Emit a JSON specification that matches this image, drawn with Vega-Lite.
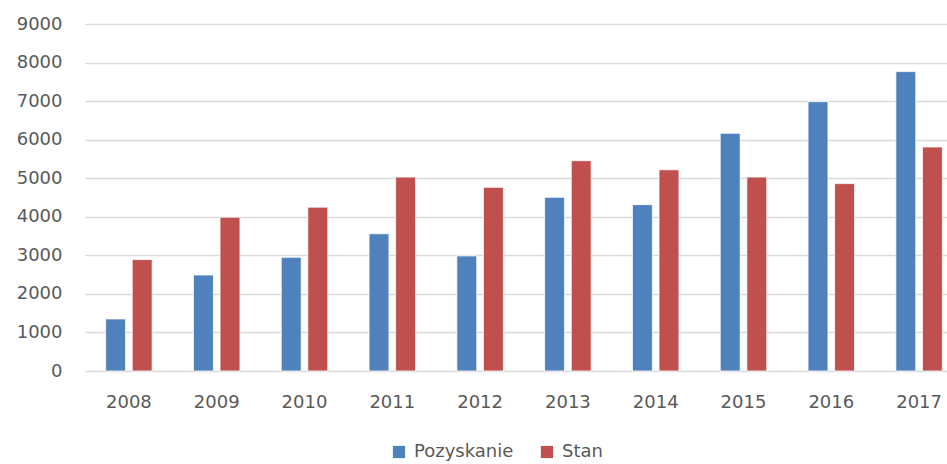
{
  "$schema": "https://vega.github.io/schema/vega-lite/v6.json",
  "autosize": "none",
  "padding": {"left": 85, "top": 24, "right": 0, "bottom": 93},
  "width": 878,
  "height": 347,
  "background": "white",
  "config": {
    "view": {"stroke": null},
    "font": "DejaVu Sans",
    "axis": {"labelFont": "DejaVu Sans", "labelColor": "#595959", "labelFontSize": 18},
    "legend": {"labelFont": "DejaVu Sans", "labelColor": "#595959", "labelFontSize": 18}
  },
  "data": {
    "values": [
      {"rok": "2008", "seria": "Pozyskanie", "wartosc": 1350},
      {"rok": "2008", "seria": "Stan", "wartosc": 2890},
      {"rok": "2009", "seria": "Pozyskanie", "wartosc": 2490},
      {"rok": "2009", "seria": "Stan", "wartosc": 3990},
      {"rok": "2010", "seria": "Pozyskanie", "wartosc": 2950},
      {"rok": "2010", "seria": "Stan", "wartosc": 4250},
      {"rok": "2011", "seria": "Pozyskanie", "wartosc": 3560},
      {"rok": "2011", "seria": "Stan", "wartosc": 5030},
      {"rok": "2012", "seria": "Pozyskanie", "wartosc": 2985},
      {"rok": "2012", "seria": "Stan", "wartosc": 4765},
      {"rok": "2013", "seria": "Pozyskanie", "wartosc": 4505},
      {"rok": "2013", "seria": "Stan", "wartosc": 5455},
      {"rok": "2014", "seria": "Pozyskanie", "wartosc": 4315},
      {"rok": "2014", "seria": "Stan", "wartosc": 5220},
      {"rok": "2015", "seria": "Pozyskanie", "wartosc": 6165},
      {"rok": "2015", "seria": "Stan", "wartosc": 5030},
      {"rok": "2016", "seria": "Pozyskanie", "wartosc": 6985},
      {"rok": "2016", "seria": "Stan", "wartosc": 4860},
      {"rok": "2017", "seria": "Pozyskanie", "wartosc": 7765},
      {"rok": "2017", "seria": "Stan", "wartosc": 5810}
    ]
  },
  "mark": {"type": "bar", "stroke": "white", "strokeWidth": 0.8},
  "encoding": {
    "x": {
      "field": "rok", "type": "nominal",
      "scale": {"paddingInner": 0.47, "paddingOuter": 0.235},
      "axis": {"title": null, "labelAngle": 0, "ticks": false, "domain": false, "labelPadding": 22}
    },
    "xOffset": {"field": "seria", "type": "nominal", "scale": {"paddingInner": 0.25}},
    "y": {
      "field": "wartosc", "type": "quantitative",
      "scale": {"domain": [0, 9000], "nice": false},
      "axis": {"title": null, "format": "d", "values": [0,1000,2000,3000,4000,5000,6000,7000,8000,9000], "ticks": false, "domain": false, "labelPadding": 23, "gridColor": "#d9d9d9", "gridWidth": 1.6}
    },
    "color": {
      "field": "seria", "type": "nominal",
      "scale": {"domain": ["Pozyskanie", "Stan"], "range": ["#4F81BD", "#C0504D"]},
      "legend": {"title": null, "orient": "none", "legendX": 305, "legendY": 419, "direction": "horizontal", "symbolType": "square", "symbolSize": 150, "symbolStrokeWidth": 0, "columnPadding": 24, "labelOffset": 6}
    }
  }
}
